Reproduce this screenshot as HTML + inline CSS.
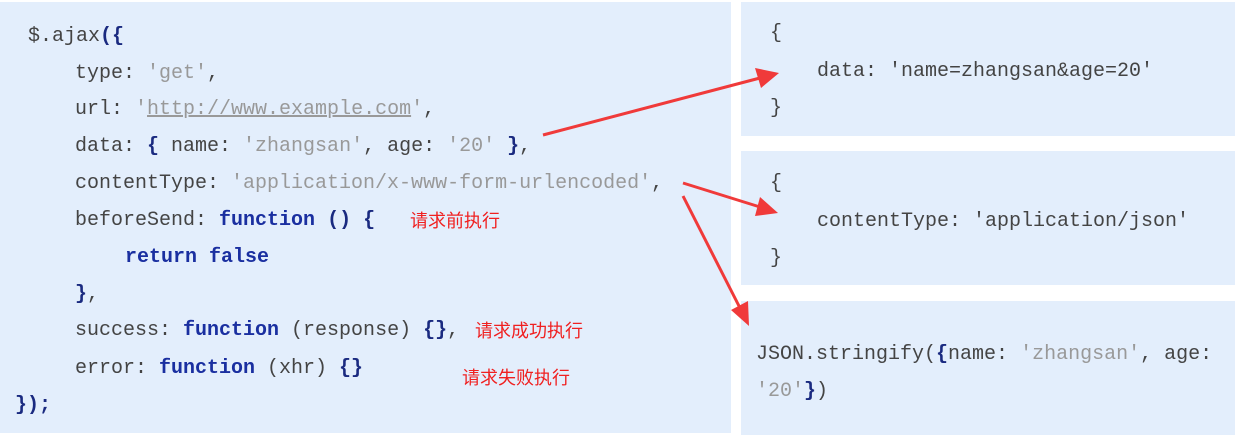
<!DOCTYPE html>
<html><head><meta charset="utf-8"><style>
body{margin:0;width:1247px;height:435px;background:#fff;position:relative;overflow:hidden;font-family:"Liberation Mono","Courier New",monospace;font-size:20px;color:#444}
.p{position:absolute;background:#e3eefc}
.l{position:absolute;white-space:pre;line-height:24px}
.s{color:#999}.k{color:#1a2fa0;font-weight:bold}.b{color:#1a2a80;font-weight:bold}
.cn{position:absolute;color:#f02020;font-family:"Liberation Sans","Noto Sans CJK SC",sans-serif;font-size:18px;line-height:24px}
</style></head><body>
<div class="p" style="left:0;top:2px;width:731px;height:431px"></div>
<div class="p" style="left:741px;top:2px;width:494px;height:134px"></div>
<div class="p" style="left:741px;top:151px;width:494px;height:134px"></div>
<div class="p" style="left:741px;top:301px;width:494px;height:134px"></div>

<div class="l" style="left:28px;top:25px">$.ajax<span class="b">({</span></div>
<div class="l" style="left:75px;top:62px">type: <span class="s">'get'</span>,</div>
<div class="l" style="left:75px;top:98px">url: <span class="s">'<u>http://www.example.com</u>'</span>,</div>
<div class="l" style="left:75px;top:135px">data: <span class="b">{</span> name: <span class="s">'zhangsan'</span>, age: <span class="s">'20'</span> <span class="b">}</span>,</div>
<div class="l" style="left:75px;top:172px">contentType: <span class="s">'application/x-www-form-urlencoded'</span>,</div>
<div class="l" style="left:75px;top:209px">beforeSend: <span class="k">function</span> <span class="b">() {</span></div>
<div class="l" style="left:125px;top:246px"><span class="k">return false</span></div>
<div class="l" style="left:75px;top:283px"><span class="b">}</span>,</div>
<div class="l" style="left:75px;top:319px">success: <span class="k">function</span> (response) <span class="b">{}</span>,</div>
<div class="l" style="left:75px;top:357px">error: <span class="k">function</span> (xhr) <span class="b">{}</span></div>
<div class="l" style="left:15px;top:394px"><span class="b">});</span></div>

<div class="cn" style="left:410px;top:209px">请求前执行</div>
<div class="cn" style="left:475px;top:319px">请求成功执行</div>
<div class="cn" style="left:462px;top:366px">请求失败执行</div>

<div class="l" style="left:770px;top:22px">{</div>
<div class="l" style="left:817px;top:60px">data: 'name=zhangsan&amp;age=20'</div>
<div class="l" style="left:770px;top:97px">}</div>
<div class="l" style="left:770px;top:172px">{</div>
<div class="l" style="left:817px;top:210px">contentType: 'application/json'</div>
<div class="l" style="left:770px;top:247px">}</div>
<div class="l" style="left:756px;top:343px">JSON.stringify(<span class="b">{</span>name: <span class="s">'zhangsan'</span>, age:</div>
<div class="l" style="left:756px;top:380px"><span class="s">'20'</span><span class="b">}</span>)</div>

<svg width="1247" height="435" style="position:absolute;left:0;top:0">
<g stroke="#f03a3a" stroke-width="3" fill="#f03a3a">
<line x1="543" y1="135" x2="760" y2="78"/>
<polygon points="779,73 755,68 761,88" stroke="none"/>
<line x1="683" y1="183" x2="760" y2="207"/>
<polygon points="778,213 760,197 755,216" stroke="none"/>
<line x1="683" y1="196" x2="740" y2="308"/>
<polygon points="749,326 731,310 748,301" stroke="none"/>
</g></svg>
</body></html>
